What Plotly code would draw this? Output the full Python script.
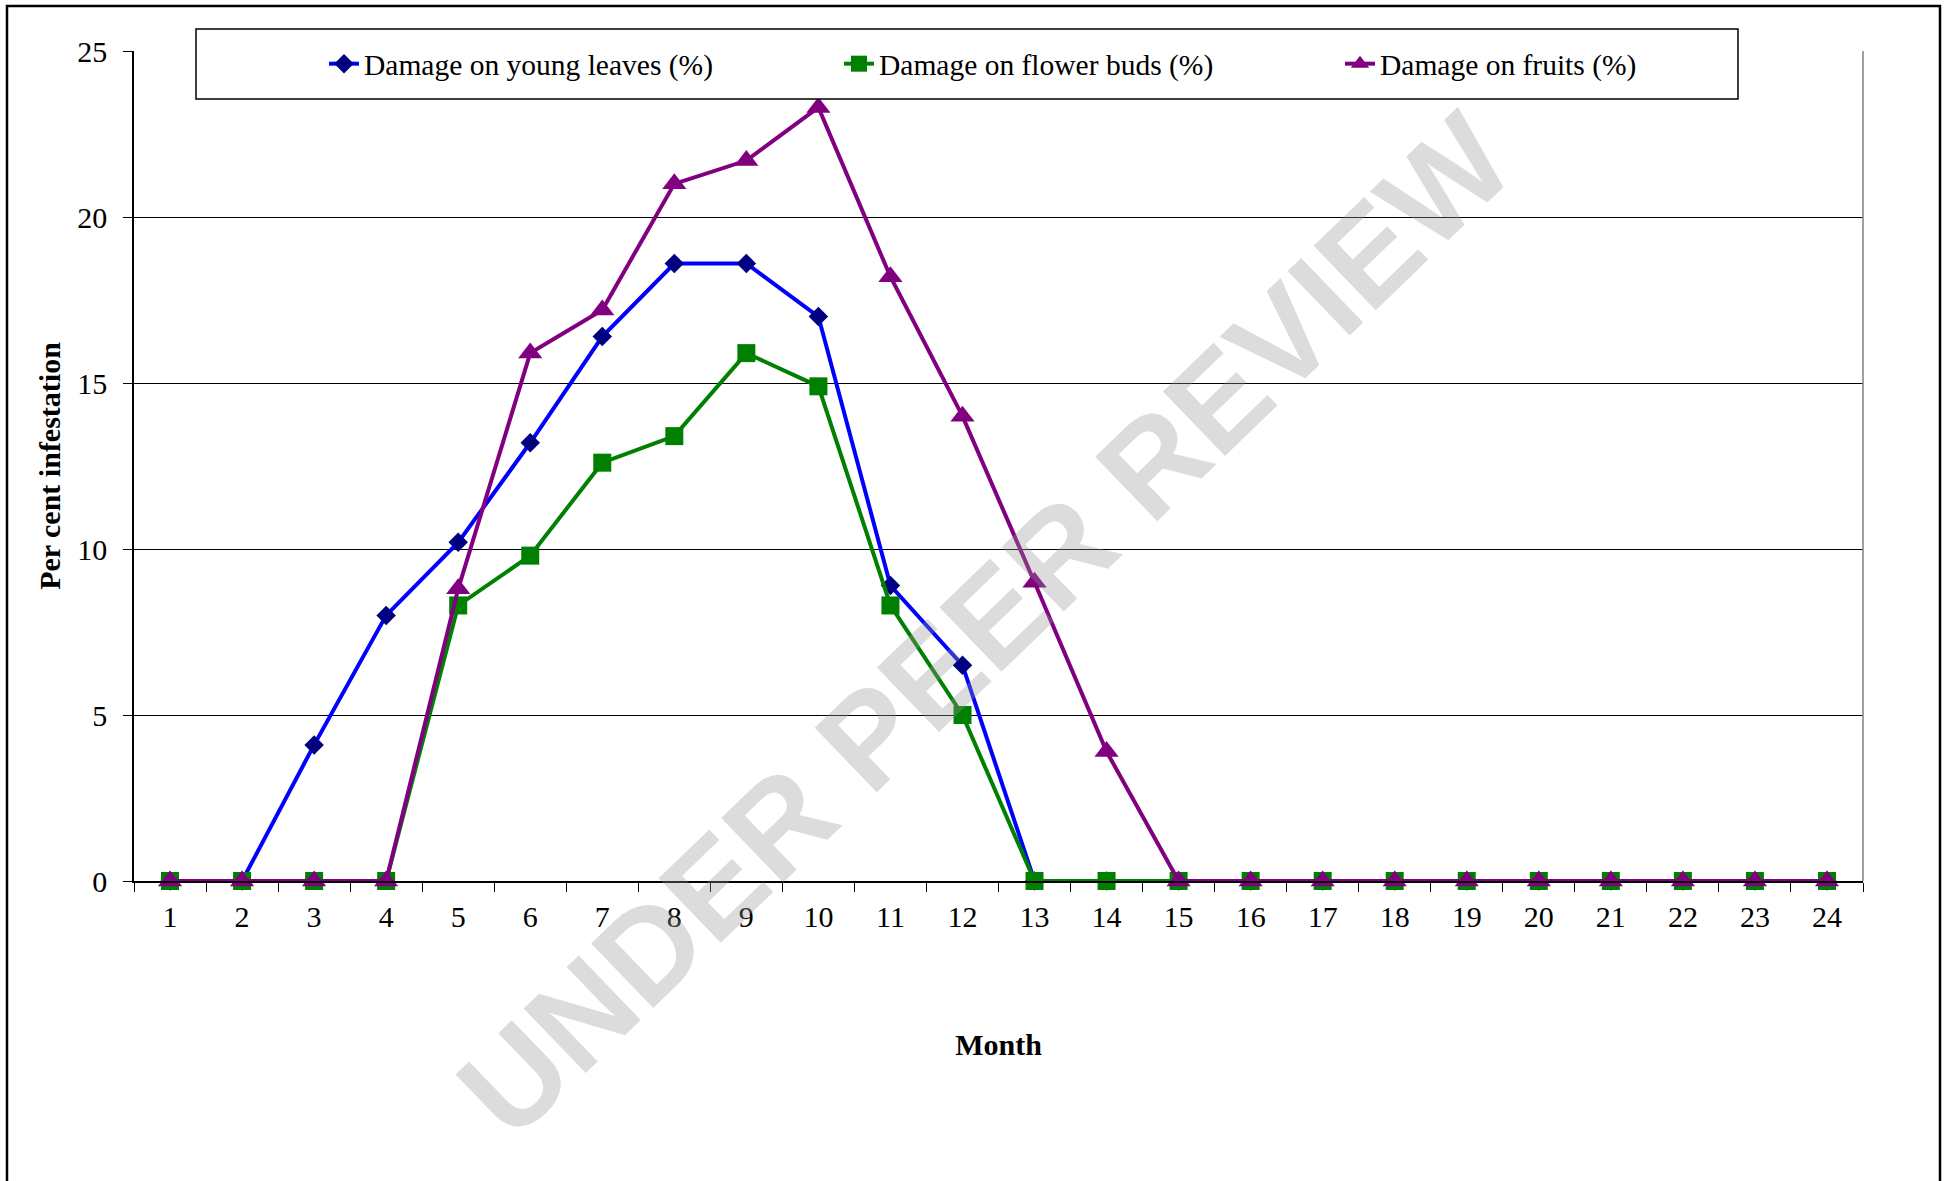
import plotly.graph_objects as go

months = [str(m) for m in range(1, 25)]
young_leaves = [0, 0, 4.1, 8.0, 10.2, 13.2, 16.4, 18.6, 18.6, 17.0, 8.9, 6.5,
                0, 0, 0, 0, 0, 0, 0, 0, 0, 0, 0, 0]
flower_buds = [0, 0, 0, 0, 8.3, 9.8, 12.6, 13.4, 15.9, 14.9, 8.3, 5.0,
               0, 0, 0, 0, 0, 0, 0, 0, 0, 0, 0, 0]
fruits = [0, 0, 0, 0, 8.8, 15.9, 17.2, 21.0, 21.7, 23.3, 18.2, 14.0,
          9.0, 3.9, 0, 0, 0, 0, 0, 0, 0, 0, 0, 0]
y_ticks = [0, 5, 10, 15, 20, 25]

FONT = "Liberation Serif, Times New Roman, serif"

fig = go.Figure()
fig.add_trace(go.Scatter(
    x=months, y=young_leaves, mode="lines+markers",
    name="Damage on young leaves (%)",
    line=dict(color="#0000FF", width=4),
    marker=dict(symbol="diamond", size=15, color="#000080", line=dict(width=0)),
    cliponaxis=False, legendwidth=470,
))
fig.add_trace(go.Scatter(
    x=months, y=flower_buds, mode="lines+markers",
    name="Damage on flower buds (%)",
    line=dict(color="#008000", width=4),
    marker=dict(symbol="square", size=18, color="#008000", line=dict(width=0)),
    cliponaxis=False, legendwidth=456,
))
fig.add_trace(go.Scatter(
    x=months, y=fruits, mode="lines+markers",
    name="Damage on fruits (%)",
    line=dict(color="#800080", width=4),
    marker=dict(symbol="triangle-up", size=21, color="#800080", line=dict(width=0)),
    cliponaxis=False, legendwidth=300,
))

L, T, R, B = 134, 51, 1863, 881
W, H = 1950, 1181
pw, ph = R - L, B - T

def px(x):
    return (x - L) / pw

def py(y):
    return (B - y) / ph

shapes = [
    # outer page frame
    dict(type="rect", xref="paper", yref="paper",
         x0=px(7), x1=px(1940), y0=py(1200), y1=py(6),
         line=dict(color="black", width=2.5), fillcolor="rgba(0,0,0,0)", layer="below"),
    # right plot border (gray)
    dict(type="line", xref="paper", yref="paper", x0=1, x1=1, y0=0, y1=1,
         line=dict(color="#808080", width=1.5), layer="above"),
    # legend box
    dict(type="rect", xref="paper", yref="paper",
         x0=px(196), x1=px(1738), y0=py(99), y1=py(29),
         line=dict(color="black", width=1.5), fillcolor="white", layer="above"),
]

fig.update_layout(
    width=W, height=H,
    margin=dict(l=L, r=W - R, t=T, b=H - B, pad=0),
    paper_bgcolor="white", plot_bgcolor="white",
    font=dict(family=FONT, size=30, color="black"),
    showlegend=True,
    legend=dict(
        orientation="h", x=px(324), xanchor="left", y=py(64), yanchor="middle",
        bgcolor="rgba(0,0,0,0)", borderwidth=0,
        font=dict(family=FONT, size=29.5, color="black"),
        itemsizing="trace",
    ),
    shapes=shapes,
    annotations=[
        dict(text="UNDER PEER REVIEW", xref="paper", yref="paper",
             x=px(985), y=py(625), xanchor="center", yanchor="middle",
             showarrow=False, textangle=-44,
             font=dict(family="Liberation Sans, Arial, sans-serif", size=130,
                       color="rgba(150,150,150,0.33)", weight="bold")),
    ],
)

fig.update_xaxes(
    type="category", categoryorder="array", categoryarray=months,
    range=[-0.5, 23.5], tickson="boundaries",
    ticks="outside", ticklen=9, tickwidth=1, tickcolor="black",
    showline=True, linecolor="black", linewidth=1.5,
    showgrid=False, zeroline=False, ticklabelstandoff=8,
    tickfont=dict(family=FONT, size=30, color="black"),
    title=dict(text="Month", font=dict(family=FONT, size=30, color="black", weight="bold"),
               standoff=102),
)
fig.update_yaxes(
    range=[0, 25], tickvals=y_ticks,
    ticks="outside", ticklen=9, tickwidth=1, tickcolor="black",
    showline=True, linecolor="black", linewidth=1.5,
    showgrid=True, gridcolor="black", gridwidth=1,
    zeroline=False, ticklabelstandoff=10,
    tickfont=dict(family=FONT, size=30, color="black"),
    title=dict(text="Per cent infestation",
               font=dict(family=FONT, size=30, color="black", weight="bold"),
               standoff=8),
)

fig.write_html("out.html", config={"displayModeBar": False},
               post_script="document.body.style.margin='0';")
